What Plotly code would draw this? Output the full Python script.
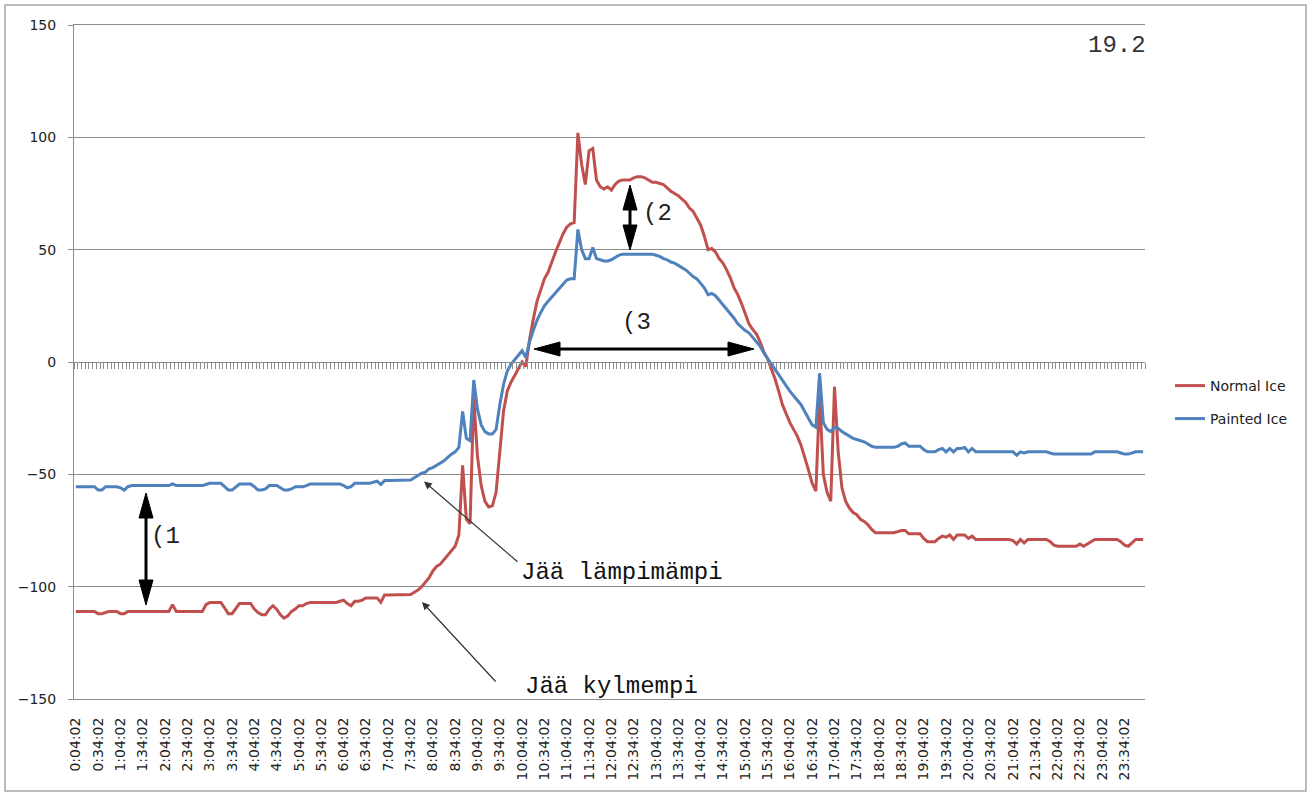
import plotly.graph_objects as go

# ---- categories (5-minute samples starting 0:04:02) ----
times = []
for k in range(288):
    total = 4 + 5 * k
    times.append(f"{total // 60}:{total % 60:02d}:02")
tick_labels = times[::6]

# ---- series values ----
painted_ice = [
    -55.5, -55.5, -55.5, -55.5, -55.5, -55.5, -57, -57, -55.5, -55.5,
    -55.5, -55.5, -56, -57, -55.5, -55, -55, -55, -55, -55,
    -55, -55, -55, -55, -55, -55, -54.3, -55, -55, -55,
    -55, -55, -55, -55, -55, -54.5, -54, -54, -54, -54,
    -55.5, -57, -57, -55.5, -54.3, -54.3, -54.3, -54.3, -55.5, -57,
    -57, -56.5, -55, -55, -55, -56, -57, -57, -56.5, -55.5,
    -55.5, -55.5, -55, -54.3, -54.3, -54.3, -54.3, -54.3, -54.3, -54.3,
    -54.3, -54.3, -55, -56, -55.5, -54, -54, -54, -54, -54,
    -53.5, -53, -54.5, -52.8, -52.8, -52.8, -52.8, -52.8, -52.8, -52.8,
    -52.5, -51.5, -50.5, -49.5, -49, -47.5, -47, -46, -45, -44,
    -42.5, -41, -40, -38, -22, -34, -35, -8, -21, -28,
    -31, -32, -32, -30, -19, -10, -4, -1, 1, 3,
    5, 2, 9, 14, 18.5, 22, 25, 27, 29, 31,
    33, 35, 36.5, 37, 37, 59, 50, 46, 46, 51,
    46, 45.5, 45, 45, 45.5, 46.5, 47.5, 48, 48, 48,
    48, 48, 48, 48, 48, 48, 47.5, 47, 46, 45.5,
    44.5, 44, 43, 42, 41, 39.5, 38, 37, 35, 33,
    30, 30.5, 29.5, 27.5, 26, 24, 21.5, 19.5, 17, 15.5,
    14, 13, 11, 9, 7, 4, 1.5, -0.5, -3, -6,
    -8, -11, -13, -15, -17, -19, -22, -25, -28, -29,
    -5, -27, -30, -31, -29, -29.5, -31, -32, -33, -34,
    -34.5, -35, -35.5, -36.5, -37.5, -38, -38, -38, -38, -38,
    -38, -37.5, -36.5, -36, -37.5, -37.5, -37.5, -37.5, -39, -40,
    -40, -40, -39, -38.5, -40, -38.5, -40, -38.5, -38.5, -38,
    -40, -38.5, -40, -40, -40, -40, -40, -40, -40, -40,
    -40, -40, -40, -41.5, -40, -40.5, -40, -40, -40, -40,
    -40, -40, -40.5, -41, -41, -41, -41, -41, -41, -41,
    -41, -41, -41, -41, -40, -40, -40, -40, -40, -40,
    -40, -40.5, -41, -41, -40.5, -40, -40, -40,
]

normal_ice = [
    -111, -111, -111, -111, -111, -111, -112, -112, -111.5, -111,
    -111, -111, -112, -112, -111, -111, -111, -111, -111, -111,
    -111, -111, -111, -111, -111, -111, -108, -111, -111, -111,
    -111, -111, -111, -111, -111, -108, -107, -107, -107, -107,
    -109.5, -112, -112, -109.5, -107.5, -107.5, -107.5, -107.5, -110, -111.5,
    -112.5, -112.5, -110, -108.5, -110, -112.5, -114, -113, -111, -110,
    -108.5, -108.5, -107.5, -107, -107, -107, -107, -107, -107, -107,
    -107, -106.5, -106, -107.5, -108.5, -106.5, -106.5, -106, -105, -105,
    -105, -105, -107, -103.7, -103.7, -103.7, -103.7, -103.7, -103.7, -103.7,
    -103.5, -102.5, -101.5, -100, -98, -96, -93, -91, -90, -88,
    -86.5, -84.5, -82, -77, -46, -70, -72, -16, -42, -55,
    -62, -64.5, -64, -58, -40, -22, -13, -9, -6, -3,
    0, -2, 10, 19, 27, 32, 37, 40, 45, 49,
    53, 57, 60, 61.5, 62, 102, 88, 79, 94, 95,
    81, 78, 77, 78, 76.5, 79, 80.5, 81, 81, 81,
    82, 82.5, 82.5, 82, 81, 80, 80, 79.5, 79, 77.5,
    76, 75, 74, 72.5, 71, 68.5, 67, 64, 61, 56,
    50, 50.5, 49, 46, 44, 41, 37.5, 33, 30, 26,
    21, 17, 14.5, 12.5, 9, 4.5, 1.5, -3, -7.5, -13,
    -19, -23, -27, -30, -33, -37, -42, -48, -54, -57.5,
    -15, -50, -58, -62, -11, -40, -56, -62, -65, -67,
    -68, -70, -71, -72.5, -74.5, -76, -76, -76, -76, -76,
    -76, -75.5, -75, -75, -76.5, -76.5, -76.5, -76.5, -78.5, -80,
    -80, -80, -78.5, -77.5, -78, -77, -79, -77, -77, -77,
    -78.5, -77.5, -79, -79, -79, -79, -79, -79, -79, -79,
    -79, -79, -79.5, -81, -79, -80.5, -79, -79, -79, -79,
    -79, -79, -80, -81.5, -82, -82, -82, -82, -82, -82,
    -81, -82, -81, -80, -79, -79, -79, -79, -79, -79,
    -79, -80, -81.5, -82, -80.5, -79, -79, -79,
]

y_ticks = [-150, -100, -50, 0, 50, 100, 150]

# ---- layout geometry (pixels of the 1312x798 canvas) ----
PL, PR, PT, PB = 74, 1145, 25, 699
W, H = PR - PL, PB - PT


def px(x):
    return (x - PL) / W


def py(y):
    return (PB - y) / H


GRID = "#8c8c8c"
TXT = "#222222"
MONO = "Liberation Mono, Courier New, monospace"
SANS = "DejaVu Sans, sans-serif"

fig = go.Figure()
fig.add_trace(go.Scatter(x=times, y=normal_ice, name="Normal Ice", mode="lines",
                         line=dict(color="#C0504D", width=3), legend="legend",
                         hoverinfo="skip"))
fig.add_trace(go.Scatter(x=times, y=painted_ice, name="Painted Ice", mode="lines",
                         line=dict(color="#4F81BD", width=3), legend="legend2",
                         hoverinfo="skip"))
# carrier for the zero-line axis with minor ticks
fig.add_trace(go.Scatter(x=[-0.5, 287.5], y=[0, 0], xaxis="x2", mode="lines",
                         line=dict(width=0, color="rgba(0,0,0,0)"),
                         showlegend=False, hoverinfo="skip"))

shapes = [
    dict(type="rect", xref="paper", yref="paper", x0=px(5), x1=px(1306),
         y0=py(791), y1=py(5), line=dict(color="#a6a6a6", width=1.5),
         fillcolor="rgba(0,0,0,0)", layer="below"),
]


def tri(p1, p2, p3):
    return dict(type="path", xref="paper", yref="paper",
                path=f"M{px(p1[0])},{py(p1[1])} L{px(p2[0])},{py(p2[1])} L{px(p3[0])},{py(p3[1])} Z",
                fillcolor="black", line=dict(color="black", width=1))


def seg(a, b, w=3):
    return dict(type="line", xref="paper", yref="paper",
                x0=px(a[0]), y0=py(a[1]), x1=px(b[0]), y1=py(b[1]),
                line=dict(color="black", width=w))


def varrow(x, ytop, ybot, L=25, hw=7):
    return [seg((x, ytop + L - 3), (x, ybot - L + 3)),
            tri((x, ytop), (x - hw, ytop + L), (x + hw, ytop + L)),
            tri((x, ybot), (x - hw, ybot - L), (x + hw, ybot - L))]


def harrow(y, xl, xr, L=26, hw=7):
    return [seg((xl + L - 3, y), (xr - L + 3, y)),
            tri((xl, y), (xl + L, y - hw), (xl + L, y + hw)),
            tri((xr, y), (xr - L, y - hw), (xr - L, y + hw))]


shapes += varrow(146, 493, 605)
shapes += varrow(630, 185, 250)
shapes += harrow(349, 534, 754)

annotations = [
    dict(text="19.2", x=px(1117), y=py(45), font=dict(family=MONO, size=24, color="#333333")),
    dict(text="(1", x=px(165), y=py(536), font=dict(family=MONO, size=24, color=TXT)),
    dict(text="(2", x=px(657), y=py(214), font=dict(family=MONO, size=24, color=TXT)),
    dict(text="(3", x=px(636), y=py(323), font=dict(family=MONO, size=24, color=TXT)),
    dict(text="Jää lämpimämpi", x=px(622), y=py(572), font=dict(family=MONO, size=24, color="#111111")),
    dict(text="Jää kylmempi", x=px(611), y=py(686), font=dict(family=MONO, size=24, color="#111111")),
]
for a in annotations:
    a.update(xref="paper", yref="paper", xanchor="center", yanchor="middle", showarrow=False)

annotations += [
    dict(text="", x=px(424), y=py(481.5), xref="paper", yref="paper", ax=95, ay=81.5,
         showarrow=True, arrowhead=2, arrowsize=1.3, arrowwidth=1.2, arrowcolor="#333333"),
    dict(text="", x=px(422), y=py(602), xref="paper", yref="paper", ax=75, ay=81,
         showarrow=True, arrowhead=2, arrowsize=1.3, arrowwidth=1.2, arrowcolor="#333333"),
]

fig.update_layout(
    width=1312, height=798, autosize=False,
    margin=dict(l=PL, r=1312 - PR, t=PT, b=798 - PB),
    paper_bgcolor="white", plot_bgcolor="white",
    hovermode=False,
    xaxis=dict(type="category", range=[-0.5, 287.5], tickmode="array",
               tickvals=tick_labels, ticktext=tick_labels, tickangle=-90,
               ticks="", showgrid=False, showline=True, mirror=True,
               linecolor=GRID, linewidth=1, zeroline=False,
               tickfont=dict(family=SANS, size=14, color=TXT),
               ticklabelstandoff=12),
    xaxis2=dict(overlaying="x", anchor="free", position=0.5, side="bottom",
                type="linear", range=[-0.5, 287.5], tickmode="linear",
                tick0=-0.5, dtick=1, ticks="outside", ticklen=6, tickwidth=1,
                tickcolor=GRID, showticklabels=False, showgrid=False,
                zeroline=False, showline=True, linecolor=GRID, linewidth=1),
    yaxis=dict(range=[-150, 150], tickmode="array", tickvals=y_ticks,
               showgrid=True, gridcolor=GRID, gridwidth=1, zeroline=False,
               showline=True, linecolor=GRID, linewidth=1,
               ticks="outside", ticklen=5, tickcolor=GRID,
               tickfont=dict(family=SANS, size=14, color=TXT),
               ticklabelstandoff=9),
    legend=dict(x=px(1170), y=py(386), xanchor="left", yanchor="middle",
                bgcolor="rgba(0,0,0,0)", font=dict(family=SANS, size=14, color=TXT)),
    legend2=dict(x=px(1170), y=py(419), xanchor="left", yanchor="middle",
                 bgcolor="rgba(0,0,0,0)", font=dict(family=SANS, size=14, color=TXT)),
    shapes=shapes,
    annotations=annotations,
)

fig.write_html("out.html", config={"displayModeBar": False},
               post_script="document.body.style.margin='0';document.body.style.overflow='hidden';")
